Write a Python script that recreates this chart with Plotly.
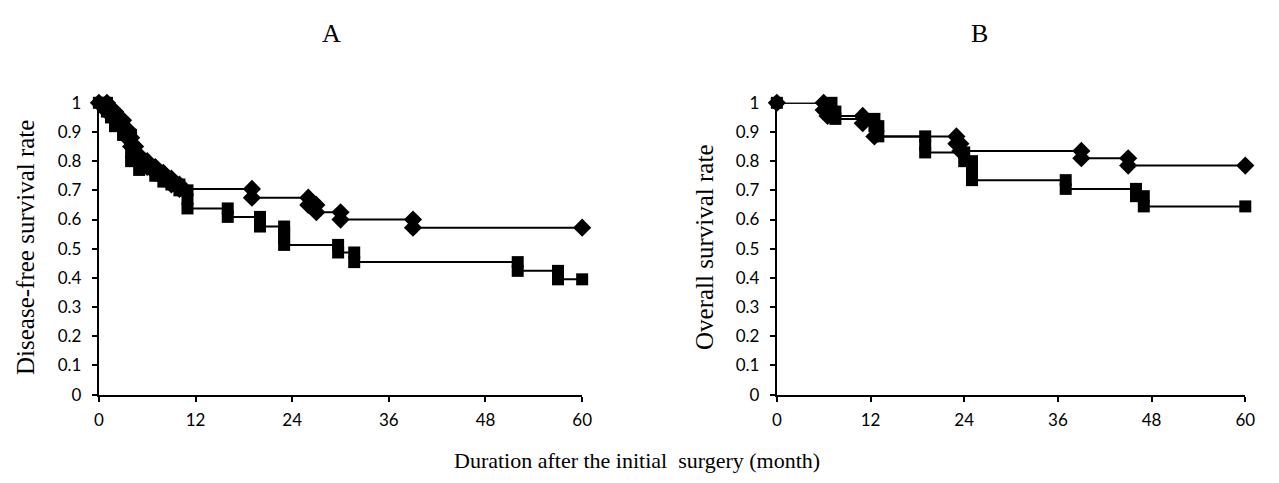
import plotly.graph_objects as go

# Panel A (disease-free survival) - step curve points (month, rate)
a_diamond_t = [0, 1, 1, 2, 2, 3, 3, 3.5, 3.5, 4, 4, 4.5, 4.5, 5, 5, 6, 6, 7, 7, 8, 8, 9, 9, 10, 10,
               19, 19, 26, 26, 27, 27, 30, 30, 39, 39, 60]
a_diamond_s = [1, 1, 0.97, 0.97, 0.94, 0.94, 0.91, 0.91, 0.88, 0.88, 0.85, 0.85, 0.82, 0.82, 0.80,
               0.80, 0.78, 0.78, 0.76, 0.76, 0.74, 0.74, 0.72, 0.72, 0.705,
               0.705, 0.675, 0.675, 0.65, 0.65, 0.625, 0.625, 0.60, 0.60, 0.572, 0.572]
a_square_t = [0, 1, 1, 1.5, 1.5, 2, 2, 3, 3, 4, 4, 4, 4, 5, 5, 7, 7, 8, 8, 9, 9, 10, 10, 11, 11, 11,
              16, 16, 20, 20, 23, 23, 23, 23, 29.7, 29.7, 31.7, 31.7, 52, 52, 57, 57, 60]
a_square_s = [1, 1, 0.97, 0.97, 0.95, 0.95, 0.92, 0.92, 0.89, 0.89, 0.86, 0.83, 0.80, 0.80, 0.77,
              0.77, 0.75, 0.75, 0.73, 0.73, 0.72, 0.72, 0.70, 0.70, 0.67, 0.638,
              0.638, 0.609, 0.609, 0.576, 0.576, 0.555, 0.535, 0.513, 0.513, 0.487, 0.487, 0.454,
              0.454, 0.424, 0.424, 0.395, 0.395]

# Panel B (overall survival)
b_diamond_t = [0, 6, 6, 6.5, 6.5, 11, 11, 12.5, 12.5, 23, 23, 23.5, 23.5, 39, 39, 45, 45, 60]
b_diamond_s = [1, 1, 0.975, 0.975, 0.955, 0.955, 0.93, 0.93, 0.885, 0.885, 0.86, 0.86, 0.835,
               0.835, 0.81, 0.81, 0.785, 0.785]
b_square_t = [0, 7, 7, 7.5, 7.5, 12.5, 12.5, 13, 13, 19, 19, 19, 24, 24, 25, 25, 25, 37, 37, 46, 46,
              47, 47, 60]
b_square_s = [1, 1, 0.97, 0.97, 0.945, 0.945, 0.92, 0.92, 0.885, 0.885, 0.855, 0.83, 0.83, 0.80,
              0.80, 0.765, 0.735, 0.735, 0.705, 0.705, 0.68, 0.68, 0.645, 0.645]

x_ticks = [0, 12, 24, 36, 48, 60]
y_ticks = [0, 0.1, 0.2, 0.3, 0.4, 0.5, 0.6, 0.7, 0.8, 0.9, 1]

fig = go.Figure()

def add(t, s, sym, size, xa, ya):
    fig.add_trace(go.Scatter(
        x=t, y=s, mode="lines+markers", xaxis=xa, yaxis=ya,
        line=dict(color="black", width=2),
        marker=dict(symbol=sym, size=size, color="black"),
        cliponaxis=False, showlegend=False, hoverinfo="x+y"))

add(a_diamond_t, a_diamond_s, "diamond", 14, "x", "y")
add(a_square_t, a_square_s, "square", 12, "x", "y")
add(b_diamond_t, b_diamond_s, "diamond", 14, "x2", "y2")
add(b_square_t, b_square_s, "square", 12, "x2", "y2")

W, H = 1279, 483

def px(x):
    return x / W

def py(y):
    return 1 - y / H

tickfont = dict(family="Lato, Open Sans, sans-serif", size=17, color="black")
common = dict(showline=True, linecolor="black", linewidth=2, ticks="outside", ticklen=5,
              tickwidth=1.5, tickcolor="black", showgrid=False, zeroline=False,
              tickfont=tickfont)
xcommon = dict(range=[0, 60], tickvals=x_ticks, ticklabelstandoff=4, **common)
ycommon = dict(range=[0, 1], tickvals=y_ticks, ticklabelstandoff=7, **common)

fig.update_layout(
    width=W, height=H, margin=dict(l=0, r=0, t=0, b=0),
    paper_bgcolor="white", plot_bgcolor="white",
    xaxis=dict(domain=[px(95), px(584)], anchor="y", **xcommon),
    yaxis=dict(domain=[py(401), py(96)], anchor="x", **ycommon),
    xaxis2=dict(domain=[px(781), px(1255)], anchor="y2", **xcommon),
    yaxis2=dict(domain=[py(401), py(96)], anchor="x2", **ycommon),
)

serif = "Liberation Serif, Times New Roman, serif"
ann = [
    dict(text="A", x=px(330), y=py(23), font=dict(family=serif, size=26)),
    dict(text="B", x=px(986), y=py(23), font=dict(family=serif, size=26)),
    dict(text="Disease-free survival rate", x=px(21), y=py(247), textangle=-90,
         font=dict(family=serif, size=25)),
    dict(text="Overall survival rate", x=px(708), y=py(247), textangle=-90,
         font=dict(family=serif, size=25)),
    dict(text="Duration after the initial  surgery (month)", x=px(640), y=py(470),
         font=dict(family=serif, size=22)),
]
for a in ann:
    a.update(xref="paper", yref="paper", showarrow=False, xanchor="center", yanchor="middle")
    a["font"]["color"] = "black"
    fig.add_annotation(**a)

fig.write_html("out.html")
